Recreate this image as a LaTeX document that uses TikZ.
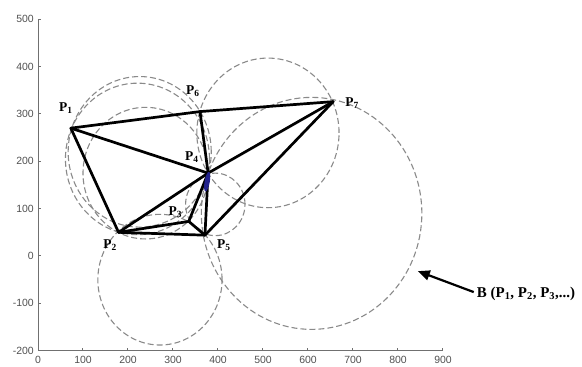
\documentclass[tikz,border=0pt]{standalone}
\usepackage{fontspec}
\setmainfont{Liberation Serif}
\newfontfamily\axisfont{Liberation Sans}
\usetikzlibrary{arrows.meta}
\definecolor{axisgray}{HTML}{707070}
\definecolor{ticktext}{HTML}{505050}
\definecolor{dashgray}{HTML}{8A8A8A}
\definecolor{blobblue}{HTML}{22228C}
\begin{document}
\begin{tikzpicture}[
  edge/.style={line width=2.7bp, black, line cap=round, line join=round},
  circ/.style={draw=dashgray, line width=1.1bp, dash pattern=on 6bp off 3bp},
  plabel/.style={font=\fontsize{13.5}{15}\selectfont\bfseries, inner sep=0pt},
  blabel/.style={font=\fontsize{15}{17}\selectfont\bfseries, inner sep=0pt},
  ticklab/.style={font=\axisfont\fontsize{10.5}{12}\selectfont, text=ticktext, inner sep=0pt},
  axisline/.style={draw=axisgray, line width=1bp}
]
\useasboundingbox (0,0) rectangle (582bp,367bp);
\begin{scope}[shift={(38bp,111bp)}, x=0.45bp, y=0.4735bp]
  % axes
  \coordinate (ytop) at (0,500);
  \coordinate (orig) at (0,-200);
  \coordinate (xend) at (900,-200);
  \draw[axisline] (ytop) -- (orig) -- (xend);
  \foreach \v in {-200,-100,0,100,200,300,400,500}{
    \draw[axisline] (0,\v) -- ++(3bp,0);
    \node[ticklab, anchor=east] (yl\v) at ([xshift=-4bp]0,\v) {\v};
  }
  \foreach \v in {0,100,...,900}{
    \draw[axisline] (\v,-200) -- ++(0,3bp);
    \node[ticklab, anchor=north] (xl\v) at ([yshift=-5bp]\v,-200) {\v};
  }
  % points
  \coordinate (P1) at (73,270);
  \coordinate (P2) at (179,50);
  \coordinate (P3) at (335,73);
  \coordinate (P4) at (378,175);
  \coordinate (P5) at (371,44);
  \coordinate (P6) at (360,305);
  \coordinate (P7) at (656,326);
  % circles
  \draw[circ] (226,220) circle[radius=159];
  \draw[circ] (221,205) circle[radius=160];
  \draw[circ] (239,175) circle[radius=139];
  \draw[circ] (394,109) circle[radius=66];
  \draw[circ] (511,260) circle[radius=158];
  \draw[circ] (271,-50) circle[radius=138];
  \draw[circ] (608,90) circle[radius=245];
  % edges
  \draw[edge] (P1) -- (P6);
  \draw[edge] (P6) -- (P7);
  \draw[edge] (P1) -- (P4);
  \draw[edge] (P1) -- (P2);
  \draw[edge] (P2) -- (P4);
  \draw[edge] (P2) -- (P3);
  \draw[edge] (P2) -- (P5);
  \draw[edge] (P3) -- (P5);
  \draw[edge] (P3) -- (P4);
  \draw[edge] (P4) -- (P5);
  \draw[edge] (P4) -- (P7);
  \draw[edge] (P5) -- (P7);
  \draw[edge] (P6) -- (P4);
  % blue marker at P4
  \coordinate (blob) at (376,157);
  \begin{scope}[shift={(blob)}, rotate=-10]
    \fill[blobblue] (0,0) ellipse[x radius=2.6bp, y radius=10bp];
  \end{scope}
  % labels
  \node[plabel] (L1) at (62,312) {P\textsubscript{1}};
  \node[plabel] (L6) at (344,348) {P\textsubscript{6}};
  \node[plabel] (L4) at (342,209) {P\textsubscript{4}};
  \node[plabel] (L7) at (698,323) {P\textsubscript{7}};
  \node[plabel] (L2) at (160,23) {P\textsubscript{2}};
  \node[plabel] (L5) at (413,23) {P\textsubscript{5}};
  \node[plabel] (L3) at (305,93) {P\textsubscript{3}};
  % B label and arrow
  \coordinate (Btip) at (844,-32);
  \node[blabel, anchor=base west] (Blab) at (975,-88) {B (P\textsubscript{1}, P\textsubscript{2}, P\textsubscript{3},...)};
  \draw[line width=2.2bp, -{Triangle[length=12bp,width=10bp]}] ([xshift=-3bp,yshift=2bp]Blab.west) -- (Btip);
\end{scope}
\end{tikzpicture}
\end{document}
